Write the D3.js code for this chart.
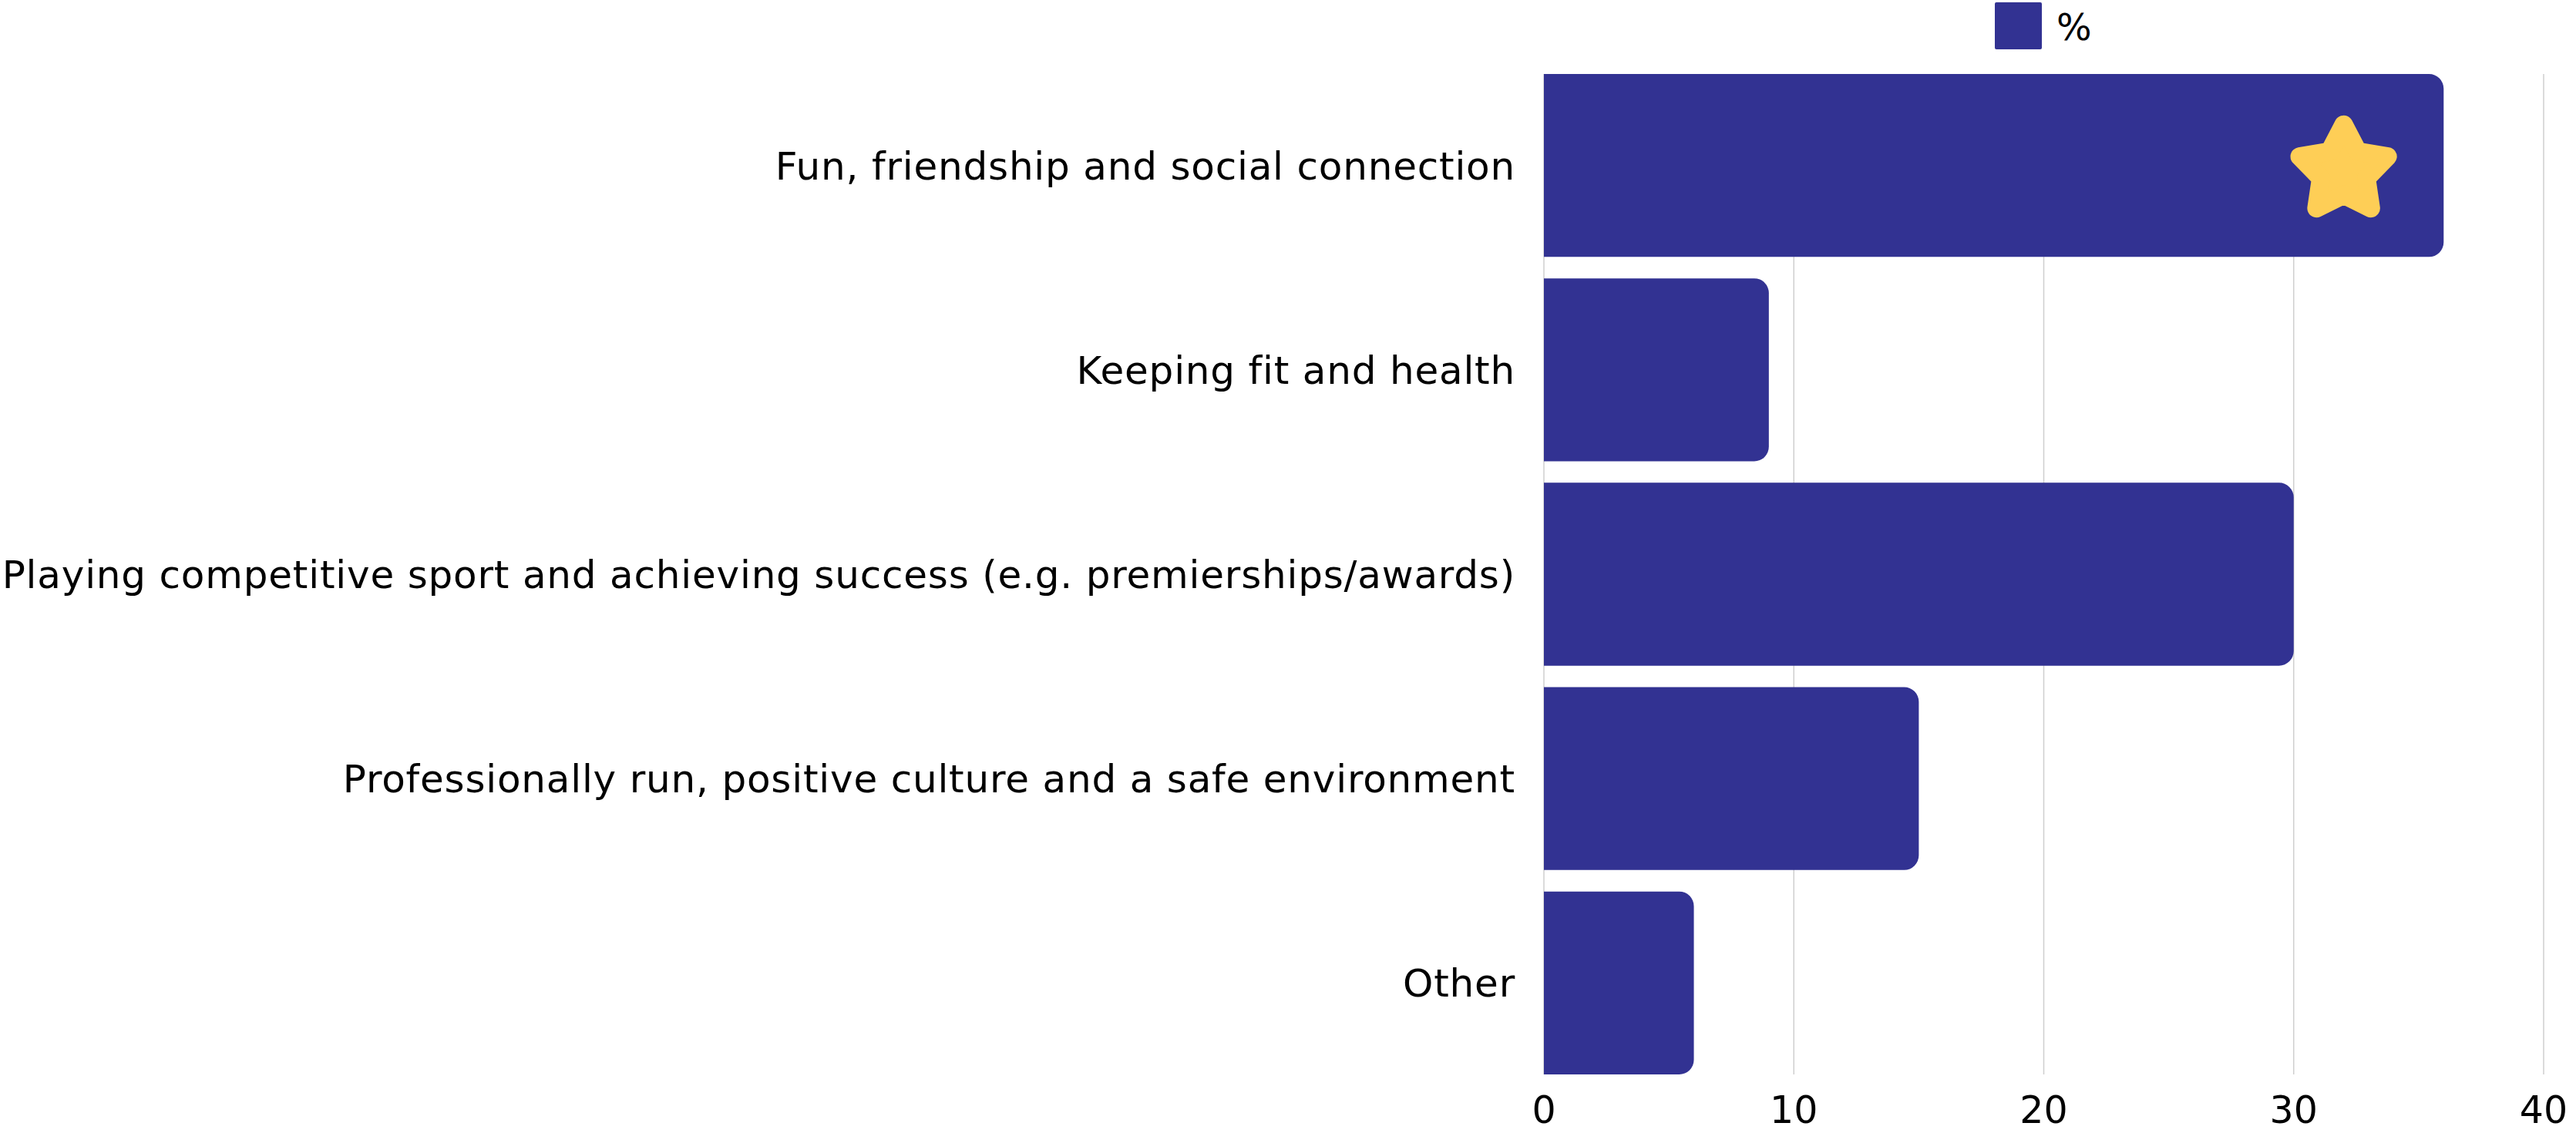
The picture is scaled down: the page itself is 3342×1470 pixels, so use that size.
<!DOCTYPE html>
<meta charset="utf-8">
<style>
body { margin: 0; background: #fff; }
svg text { font-family: "DejaVu Sans", "Noto Sans", sans-serif; fill: #000; }
.grid line { stroke: #cfcfcf; stroke-width: 1.5px; }
</style>
<body>
<script src="https://cdnjs.cloudflare.com/ajax/libs/d3/7.8.5/d3.min.js"></script>
<script>
// data
var categories = [
  "Fun, friendship and social connection",
  "Keeping fit and health",
  "Playing competitive sport and achieving success (e.g. premierships/awards)",
  "Professionally run, positive culture and a safe environment",
  "Other"
];
var percents = [36, 9, 30, 15, 6];
var xTicks = [0, 10, 20, 30, 40];
var seriesName = "%";
var starCategory = "Fun, friendship and social connection";
var starValue = 32;

var W = 3342, H = 1470;
var plot = {left: 2003, right: 3300, top: 96, bottom: 1394};
var barColor = "#323292";

var svg = d3.select("body").append("svg")
    .attr("width", W)
    .attr("height", H);

var x = d3.scaleLinear().domain([0, 40]).range([plot.left, plot.right]);
var y = d3.scaleBand().domain(categories)
    .range([plot.top, plot.bottom])
    .paddingInner(0.105)
    .paddingOuter(0);

// gridlines
svg.append("g").attr("class", "grid")
  .selectAll("line")
  .data(xTicks)
  .enter().append("line")
    .attr("x1", function(d) { return x(d); })
    .attr("x2", function(d) { return x(d); })
    .attr("y1", plot.top)
    .attr("y2", plot.bottom);

// bar with only right corners rounded
function barPath(x0, y0, w, h, r) {
  r = Math.min(r, w / 2, h / 2);
  return "M" + x0 + "," + y0 +
    "H" + (x0 + w - r) +
    "A" + r + "," + r + " 0 0 1 " + (x0 + w) + "," + (y0 + r) +
    "V" + (y0 + h - r) +
    "A" + r + "," + r + " 0 0 1 " + (x0 + w - r) + "," + (y0 + h) +
    "H" + x0 + "Z";
}

var rows = categories.map(function(c, i) { return {cat: c, val: percents[i]}; });

svg.append("g").selectAll("path")
  .data(rows)
  .enter().append("path")
    .attr("fill", barColor)
    .attr("d", function(d) {
      return barPath(x(0), y(d.cat), x(d.val) - x(0), y.bandwidth(), 19);
    });

// category labels
svg.append("g").selectAll("text")
  .data(categories)
  .enter().append("text")
    .attr("x", 1966)
    .attr("y", function(d) { return y(d) + y.bandwidth() / 2; })
    .attr("dy", "0.36em")
    .attr("text-anchor", "end")
    .style("font-size", "50px")
    .style("letter-spacing", "0.8px")
    .text(function(d) { return d; });

// x axis tick labels
svg.append("g").selectAll("text")
  .data(xTicks)
  .enter().append("text")
    .attr("x", function(d) { return x(d); })
    .attr("y", 1457)
    .attr("text-anchor", "middle")
    .style("font-size", "49px")
    .text(function(d) { return d; });

// legend
svg.append("rect")
    .attr("x", 2588).attr("y", 3)
    .attr("width", 61).attr("height", 61)
    .attr("rx", 2)
    .attr("fill", barColor);
svg.append("text")
    .attr("x", 2668).attr("y", 52)
    .style("font-size", "48px")
    .text(seriesName);

// rounded star marker
function starPath(R, r) {
  var pts = [];
  for (var i = 0; i < 10; i++) {
    var a = -Math.PI / 2 + i * Math.PI / 5;
    var rad = i % 2 ? r : R;
    pts.push([rad * Math.cos(a), rad * Math.sin(a)]);
  }
  return d3.line()(pts) + "Z";
}
svg.append("path")
    .attr("d", starPath(60, 31))
    .attr("transform", "translate(" + x(starValue) + "," + (y(starCategory) + y.bandwidth() / 2 + 7) + ")")
    .attr("fill", "#fece56")
    .attr("stroke", "#fece56")
    .attr("stroke-width", 24)
    .attr("stroke-linejoin", "round");
</script>
</body>
